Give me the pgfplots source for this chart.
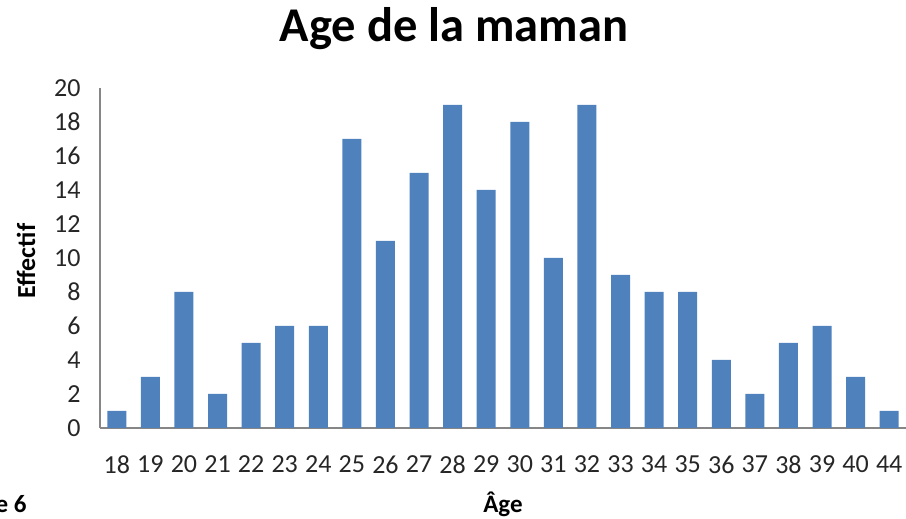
\documentclass[border=0pt]{standalone}
\usepackage{fontspec}
\setmainfont{Carlito}
\usepackage{pgfplots}
\pgfplotsset{compat=1.18}
\definecolor{barblue}{HTML}{4F81BD}
\definecolor{axgray}{HTML}{868686}
\begin{document}
\begin{tikzpicture}[x=1pt,y=1pt]
\path[use as bounding box] (0,0) rectangle (906,519);
\begin{axis}[
    at={(100pt,91pt)}, anchor=south west,
    scale only axis, width=806pt, height=340pt,
    ybar, bar width=19pt,
    xmin=-0.5, xmax=23.5, ymin=0, ymax=20,
    ytick={0,2,...,20},
    xtick={0,...,23},
    xticklabels={18,19,20,21,22,23,24,25,26,27,28,29,30,31,32,33,34,35,36,37,38,39,40,44},
    axis lines*=left,
    axis line style={axgray, line width=1.2pt},
    tick style={draw=none},
    /pgf/number format/assume math mode=true,
    ticklabel style={font=\fontsize{26}{28}\selectfont, text=black!85},
    xticklabel style={yshift=-20pt},
    yticklabel style={xshift=-16pt},
    clip=false,
]
\addplot[fill=barblue, draw=none] coordinates {
  (0,1) (1,3) (2,8) (3,2) (4,5) (5,6) (6,6) (7,17) (8,11) (9,15) (10,19) (11,14)
  (12,18) (13,10) (14,19) (15,9) (16,8) (17,8) (18,4) (19,2) (20,5) (21,6) (22,3) (23,1)
};
\end{axis}
\node[font=\fontsize{48.5}{52}\selectfont\bfseries] at (454,490) {Age de la maman};
\node[font=\fontsize{26}{28}\selectfont\bfseries, rotate=90] at (26,258) {Effectif};
\node[font=\fontsize{25}{28}\selectfont\bfseries] at (503,15) {Âge};
\node[font=\fontsize{25}{28}\selectfont\bfseries, anchor=east] at (30,15) {e 6};
\end{tikzpicture}
\end{document}
